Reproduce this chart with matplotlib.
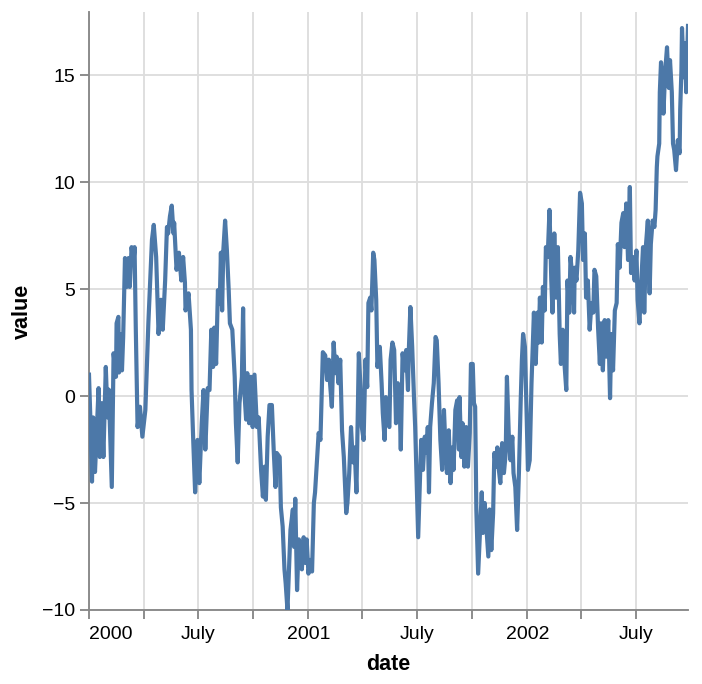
import matplotlib
matplotlib.use("Agg")
import matplotlib.pyplot as plt
import matplotlib.dates as mdates
import pandas as pd

# days since 2000-01-01 and the random-walk value
day_offset = [
    0, 2, 5, 7, 10, 16, 18, 21, 24, 28, 31, 33, 38, 41, 45, 46, 49, 50, 53, 55,
    57, 60, 63, 66, 68, 71, 74, 76, 78, 81, 85, 89, 94, 99, 105, 108, 112, 116, 120, 123,
    127, 130, 132, 135, 138, 141, 142, 146, 150, 154, 157, 160, 161, 166, 170, 171, 174, 177, 181, 184,
    188, 191, 194, 198, 201, 204, 207, 209, 212, 215, 218, 220, 222, 224, 227, 230, 233, 235, 239, 243,
    245, 248, 251, 255, 257, 259, 262, 264, 267, 270, 273, 276, 280, 283, 287, 290, 293, 295, 298, 301,
    305, 308, 311, 313, 318, 320, 323, 326, 328, 331, 334, 336, 340, 342, 344, 347, 350, 352, 355, 358,
    361, 363, 366, 369, 372, 375, 377, 380, 383, 386, 388, 390, 394, 397, 400, 402, 405, 408, 411, 413,
    416, 419, 422, 425, 429, 431, 434, 437, 440, 443, 446, 450, 453, 455, 458, 461, 464, 466, 469, 471,
    474, 476, 479, 481, 485, 488, 490, 493, 495, 498, 501, 503, 506, 509, 512, 515, 518, 520, 523, 526,
    529, 532, 533, 536, 539, 542, 544, 546, 549, 552, 554, 557, 560, 563, 565, 567, 569, 572, 575, 578,
    580, 583, 586, 589, 592, 594, 597, 600, 603, 606, 608, 611, 614, 617, 618, 621, 623, 626, 629, 632,
    635, 637, 640, 642, 644, 646, 649, 652, 655, 657, 660, 663, 666, 668, 671, 674, 676, 679, 681, 683,
    686, 689, 692, 695, 697, 700, 703, 706, 708, 711, 714, 717, 720, 722, 724, 727, 730, 732, 735, 738,
    742, 745, 748, 750, 752, 755, 757, 760, 762, 765, 768, 771, 773, 776, 779, 782, 785, 787, 790, 793,
    796, 798, 801, 803, 806, 809, 810, 813, 816, 819, 822, 824, 827, 829, 832, 835, 838, 841, 843, 846,
    849, 852, 854, 857, 860, 863, 866, 869, 871, 874, 877, 880, 882, 885, 888, 891, 893, 896, 899, 902,
    904, 907, 910, 913, 915, 918, 921, 924, 926, 929, 932, 935, 937, 940, 943, 945, 947, 948, 951, 952,
    954, 956, 958, 961, 964, 967, 969, 972, 974, 976, 979, 982, 985, 986, 988, 989, 992, 994, 996, 999,
]
value = [
    1.0, -0.8, -4.0, -1.0, -3.55, 0.37, -2.85, -0.33, -2.85, 1.36, -1.0, 0.3, -4.25, 2.0, 0.9, 3.4, 3.7, 1.1, 2.9, 1.2,
    2.76, 6.45, 5.1, 6.45, 5.1, 6.96, 6.2, 6.96, 3.2, -1.45, -0.5, -1.9, -0.65, 3.4, 7.3, 8.0, 6.5, 2.9, 4.5, 3.1,
    5.4, 7.9, 7.6, 8.4, 8.9, 7.6, 8.1, 5.9, 6.7, 5.4, 6.5, 5.3, 4.0, 4.8, 3.1, 0.3, -2.2, -4.5, -2.05, -4.07,
    -1.27, 0.28, -2.5, 0.37, 0.28, 3.1, 1.36, 3.2, 1.5, 4.95, 4.3, 6.7, 4.0, 6.8, 8.2, 6.8, 4.95, 3.4, 3.1, 0.9,
    -1.27, -3.1, -0.33, 0.9, 4.1, 0.28, -1.1, 1.07, -1.27, 0.9, -1.45, 1.0, -1.45, -1.0, -3.45, -4.7, -3.3, -4.85, -1.9, -0.42,
    -0.42, -2.5, -4.25, -2.66, -2.85, -5.2, -6.1, -8.1, -8.75, -10.0, -7.8, -6.26, -5.3, -7.05, -4.8, -9.07, -6.7, -6.9, -8.1, -6.6,
    -7.8, -6.7, -8.3, -7.66, -8.2, -5.0, -4.5, -3.1, -1.73, -2.05, -0.05, 2.05, 1.9, 0.75, 1.7, 0.6, -0.5, 2.5, 1.07, 1.84,
    0.6, 1.7, -1.6, -2.85, -5.47, -5.0, -3.6, -1.45, -3.1, -2.4, -4.5, 2.0, 0.28, -1.45, -2.05, 1.7, 0.42, 4.35, 4.6, 4.0,
    6.7, 6.36, 4.5, 1.36, 2.3, 0.6, -0.8, -2.05, -0.05, -1.27, -1.45, 1.7, 2.5, 2.15, -1.27, 0.6, -0.2, -2.5, 2.0, 1.2,
    2.15, 0.28, 1.84, 4.16, 2.3, -0.05, -1.45, -3.45, -6.6, -3.9, -2.05, -3.45, -1.9, -2.66, -1.45, -4.5, -1.45, -0.33, 0.6, 2.76,
    2.6, 0.6, -2.05, -3.45, -0.65, -2.05, -3.6, -1.6, -4.07, -2.4, -3.45, -0.65, -0.2, -2.5, -0.05, -2.85, -1.27, -3.3, -1.45, -3.3,
    -1.73, 1.5, 1.5, -0.33, -0.5, -5.3, -8.3, -6.4, -4.5, -6.4, -5.0, -6.26, -7.5, -5.3, -7.2, -5.47, -2.66, -3.3, -2.4, -3.3,
    -4.07, -2.2, -3.6, -2.66, 0.9, -1.73, -3.0, -1.9, -3.6, -4.25, -6.26, -3.6, -0.2, 1.7, 2.9, 2.3, -1.0, -3.45, -3.0, 0.6,
    3.9, 1.5, 3.9, 2.5, 4.6, 2.5, 5.1, 4.0, 6.96, 6.5, 8.7, 5.4, 3.9, 7.6, 4.6, 6.96, 2.9, 1.5, 3.1, 1.5,
    0.28, 5.4, 3.9, 6.5, 5.6, 3.9, 6.0, 5.4, 6.8, 9.5, 9.0, 6.36, 7.6, 4.6, 5.4, 3.1, 4.35, 3.9, 5.9, 5.6,
    3.2, 1.5, 3.4, 1.2, 3.55, 1.84, 3.55, -0.1, 2.9, 1.2, 4.0, 4.35, 7.1, 6.0, 8.1, 8.55, 6.96, 9.0, 6.36, 9.77,
    5.75, 6.5, 5.4, 6.8, 4.5, 3.4, 5.3, 6.96, 3.9, 7.1, 8.2, 4.8, 7.1, 8.2, 7.9, 8.7, 10.7, 11.2, 11.8, 14.2,
    15.6, 14.9, 13.2, 15.2, 16.3, 14.4, 15.7, 14.2, 11.8, 11.5, 10.56, 11.96, 11.35, 13.4, 15.2, 17.2, 14.9, 16.5, 14.2, 17.3,
]

dates = pd.Timestamp("2000-01-01") + pd.to_timedelta(day_offset, unit="D")

plt.rcParams['font.family'] = ['Liberation Sans', 'DejaVu Sans']

fig = plt.figure(figsize=(7.02, 6.84), dpi=100)
ax = fig.add_axes([89 / 702, 1 - 610 / 684, 599 / 702, 598 / 684])

ax.plot(dates, value, color="#4c78a8", linewidth=3.0, zorder=3)

ax.set_xlim(dates[0], dates[-1])
ax.set_ylim(-10, 17.95)

# quarterly ticks, labels only on January and July
quarters = pd.date_range("2000-01-01", "2002-07-01", freq="QS")
labels = []
for q in quarters:
    if q.month == 1:
        labels.append(str(q.year))
    elif q.month == 7:
        labels.append("July")
    else:
        labels.append("")
ax.set_xticks(quarters)
ax.set_xticklabels(labels)
ax.get_xticklabels()[0].set_ha("left")
ax.set_yticks([-10, -5, 0, 5, 10, 15])

ax.grid(True, color="#dddddd", linewidth=1.35, zorder=0)
ax.set_axisbelow(True)

for s in ["top", "right"]:
    ax.spines[s].set_visible(False)
for s in ["left", "bottom"]:
    ax.spines[s].set_color("#888888")
    ax.spines[s].set_linewidth(1.35)

ax.tick_params(axis="both", colors="#888888", length=6.7, width=1.35,
               labelcolor="black", labelsize=14)
ax.tick_params(axis="x", pad=5)
ax.tick_params(axis="y", pad=3)

ax.set_xlabel("date", fontsize=15.5, fontweight="bold", labelpad=8)
ax.set_ylabel("value", fontsize=15.5, fontweight="bold", labelpad=7)

fig.savefig("out.png", dpi=100)
